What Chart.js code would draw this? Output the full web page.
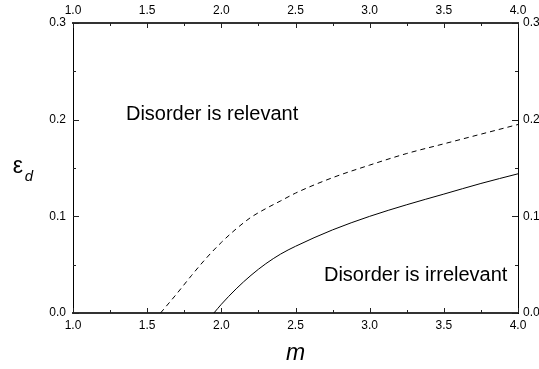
<!DOCTYPE html>
<html>
<head>
<meta charset="utf-8">
<script src="https://cdn.jsdelivr.net/npm/chart.js@4"></script>
<style>
  body { margin: 0; background: #fff; }
  #wrap { width: 539px; height: 369px; }
</style>
</head>
<body>
<div id="wrap"><canvas id="phaseChart" width="539" height="369"></canvas></div>
<script>
// values
const mDashed   = [1.59, 1.70, 1.80, 1.90, 2.00, 2.10, 2.20, 2.30, 2.40, 2.50, 2.75, 3.00, 3.25, 3.50, 3.75, 4.00];
const epsDashed = [0.000, 0.020, 0.039, 0.057, 0.073, 0.087, 0.099, 0.108, 0.116, 0.124, 0.140, 0.153, 0.165, 0.175, 0.185, 0.195];
const mSolid    = [1.95, 2.00, 2.10, 2.20, 2.30, 2.40, 2.50, 2.75, 3.00, 3.25, 3.50, 3.75, 4.00];
const epsSolid  = [0.000, 0.009, 0.025, 0.039, 0.051, 0.061, 0.069, 0.086, 0.100, 0.112, 0.123, 0.134, 0.144];
const xRange = [1, 4];
const yRange = [0, 0.3];
const labelRelevant = 'Disorder is relevant';
const labelIrrelevant = 'Disorder is irrelevant';

const FONT = '"Liberation Sans", Arial, Helvetica, sans-serif';
Chart.defaults.font.family = FONT;
Chart.defaults.color = '#000';

function toPoints(xs, ys) {
  return xs.map((x, i) => ({ x: x, y: ys[i] }));
}

// inward ticks, text labels and axis titles
const decorPlugin = {
  id: 'decor',
  afterDatasetsDraw(chart) {
    const ctx = chart.ctx;
    const area = chart.chartArea;
    const xs = chart.scales.x, ys = chart.scales.y;
    ctx.save();
    ctx.strokeStyle = '#222';
    ctx.lineWidth = 1;
    ctx.beginPath();
    for (let v = xRange[0]; v <= xRange[1] + 1e-9; v += 0.25) {
      const px = Math.round(xs.getPixelForValue(v)) + 0.5;
      const len = Math.abs((v * 2) - Math.round(v * 2)) < 1e-6 ? 5 : 3;
      ctx.moveTo(px, area.bottom); ctx.lineTo(px, area.bottom - len);
      ctx.moveTo(px, area.top); ctx.lineTo(px, area.top + len);
    }
    for (let v = yRange[0]; v <= yRange[1] + 1e-9; v += 0.05) {
      const py = Math.round(ys.getPixelForValue(v)) + 0.5;
      const len = Math.abs((v * 10) - Math.round(v * 10)) < 1e-6 ? 6 : 3;
      ctx.moveTo(area.left, py); ctx.lineTo(area.left + len, py);
      ctx.moveTo(area.right, py); ctx.lineTo(area.right - len, py);
    }
    ctx.stroke();

    ctx.fillStyle = '#000';
    ctx.font = '20px ' + FONT;
    ctx.textAlign = 'left';
    ctx.textBaseline = 'middle';
    ctx.fillText(labelRelevant, xs.getPixelForValue(1.357), ys.getPixelForValue(0.205));
    ctx.fillText(labelIrrelevant, xs.getPixelForValue(2.692), ys.getPixelForValue(0.039));

    // axis titles
    ctx.textAlign = 'center';
    ctx.font = 'italic 23px ' + FONT;
    ctx.fillText('m', (area.left + area.right) / 2, 354);
    const cy = (area.top + area.bottom) / 2;
    ctx.font = '23px ' + FONT;
    ctx.fillText('ε', 18, cy - 1);
    ctx.font = 'italic 15px ' + FONT;
    ctx.fillText('d', 29, cy + 9);
    ctx.restore();
  }
};

function fixSize(size) {
  return function (scale) {
    if (scale.isHorizontal()) scale.height = size;
    else scale.width = size;
  };
}

const tickFont = { size: 12 };
const fmt = v => Number(v).toFixed(1);

new Chart(document.getElementById('phaseChart'), {
  type: 'scatter',
  data: {
    datasets: [
      {
        data: toPoints(mDashed, epsDashed),
        showLine: true,
        borderColor: '#000',
        borderWidth: 1,
        borderDash: [5, 4],
        pointRadius: 0,
        cubicInterpolationMode: 'monotone'
      },
      {
        data: toPoints(mSolid, epsSolid),
        showLine: true,
        borderColor: '#000',
        borderWidth: 1,
        pointRadius: 0,
        cubicInterpolationMode: 'monotone'
      }
    ]
  },
  options: {
    responsive: false,
    animation: false,
    devicePixelRatio: 1,
    layout: { padding: 0 },
    plugins: { legend: { display: false }, tooltip: { enabled: false } },
    scales: {
      x: {
        type: 'linear', position: 'bottom', min: xRange[0], max: xRange[1],
        afterFit: fixSize(56),
        grid: { display: false, drawTicks: false, tickLength: 0 },
        border: { display: true, color: '#333', width: 2 },
        ticks: { stepSize: 0.5, font: tickFont, padding: 5, callback: fmt, maxRotation: 0, autoSkip: false }
      },
      x2: {
        type: 'linear', position: 'top', min: xRange[0], max: xRange[1],
        afterFit: fixSize(23),
        grid: { display: false, drawTicks: false, tickLength: 0 },
        border: { display: true, color: '#333', width: 2 },
        ticks: { stepSize: 0.5, font: tickFont, padding: 5, callback: fmt, maxRotation: 0, autoSkip: false }
      },
      y: {
        type: 'linear', position: 'left', min: yRange[0], max: yRange[1],
        afterFit: fixSize(73),
        grid: { display: false, drawTicks: false, tickLength: 0 },
        border: { display: true, color: '#000', width: 1 },
        ticks: { stepSize: 0.1, font: tickFont, padding: 7, callback: fmt }
      },
      y2: {
        type: 'linear', position: 'right', min: yRange[0], max: yRange[1],
        afterFit: fixSize(21),
        grid: { display: false, drawTicks: false, tickLength: 0 },
        border: { display: true, color: '#000', width: 1 },
        ticks: { stepSize: 0.1, font: tickFont, padding: 5, callback: fmt }
      }
    }
  },
  plugins: [decorPlugin]
});
</script>
</body>
</html>
